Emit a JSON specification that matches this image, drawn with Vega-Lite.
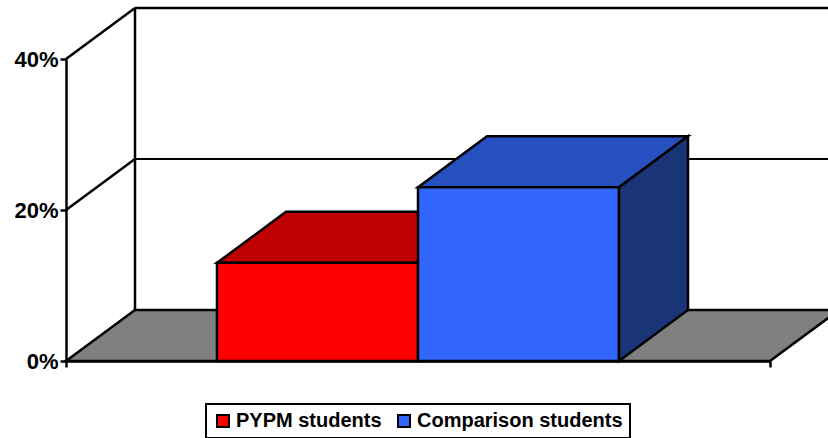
{
  "$schema": "https://vega.github.io/schema/vega-lite/v6.json",
  "width": 704,
  "height": 302,
  "autosize": {"type": "none"},
  "padding": {"left": 66, "top": 59, "right": 58, "bottom": 77},
  "background": "white",
  "config": {
    "view": {"stroke": null},
    "font": "Liberation Sans",
    "legend": {"strokeWidth": 2}
  },
  "datasets": {
    "bars": [
      {"group": "PYPM students", "value": 0.13},
      {"group": "Comparison students", "value": 0.23}
    ]
  },
  "resolve": {"scale": {"x": "independent"}},
  "layer": [
    {
      "data": {"values": [{"part": "walls"}]},
      "layer": [
        {
          "mark": {"type": "point", "shape": "M0,0L704,0L773,-51L69,-51Z", "size": 4, "filled": true, "fill": "#808080", "stroke": "black", "strokeWidth": 2.5, "opacity": 1},
          "encoding": {
            "x": {"datum": 0, "type": "quantitative", "scale": {"type": "linear", "domain": [0, 1], "nice": false, "zero": false},
              "axis": {"values": [0, 1], "labels": false, "title": null, "grid": false, "domainColor": "black", "domainWidth": 2.5, "tickColor": "black", "tickWidth": 2.5, "tickSize": 6, "zindex": 1}},
            "y": {"datum": 0, "type": "quantitative", "scale": {"domain": [0, 0.4], "nice": false, "zero": true},
              "axis": {
                "values": [0, 0.2, 0.4], "format": ".0%", "title": null, "grid": false,
                "labelFont": "Liberation Sans", "labelFontSize": 22, "labelFontWeight": "bold", "labelColor": "black",
                "labelPadding": 2, "tickSize": 6, "tickWidth": 2.5, "tickColor": "black",
                "domainColor": "black", "domainWidth": 2.5, "zindex": 1
              }}
          }
        },
        {
          "mark": {"type": "rule", "color": "black", "strokeWidth": 2.5, "xOffset": 69, "x2Offset": 90, "yOffset": -51},
          "encoding": {
            "x": {"datum": 0, "type": "quantitative"},
            "x2": {"datum": 1},
            "y": {"datum": 0.4, "type": "quantitative"}
          }
        },
        {
          "mark": {"type": "rule", "color": "black", "strokeWidth": 2, "xOffset": 69, "x2Offset": 90, "yOffset": -51},
          "encoding": {
            "x": {"datum": 0, "type": "quantitative"},
            "x2": {"datum": 1},
            "y": {"datum": 0.2, "type": "quantitative"}
          }
        },
        {
          "mark": {"type": "rule", "color": "black", "strokeWidth": 2.5, "xOffset": 69, "yOffset": -51, "y2Offset": -51},
          "encoding": {
            "x": {"datum": 0, "type": "quantitative"},
            "y": {"datum": 0, "type": "quantitative"},
            "y2": {"datum": 0.4}
          }
        },
        {
          "mark": {"type": "rule", "color": "black", "strokeWidth": 2.5, "x2Offset": 69, "y2Offset": -51},
          "encoding": {
            "x": {"datum": 0, "type": "quantitative"},
            "x2": {"datum": 0},
            "y": {"datum": 0.4, "type": "quantitative"},
            "y2": {"datum": 0.4}
          }
        },
        {
          "mark": {"type": "rule", "color": "black", "strokeWidth": 2.5, "x2Offset": 69, "y2Offset": -51},
          "encoding": {
            "x": {"datum": 0, "type": "quantitative"},
            "x2": {"datum": 0},
            "y": {"datum": 0.2, "type": "quantitative"},
            "y2": {"datum": 0.2}
          }
        },
        {
          "data": {"name": "bars"},
          "mark": {"type": "square", "size": 0, "filled": true, "opacity": 1, "strokeWidth": 0},
          "encoding": {
            "color": {
              "field": "group", "type": "nominal",
              "scale": {"domain": ["PYPM students", "Comparison students"], "range": ["#FF0000", "#3366FF"]},
              "legend": {
                "orient": "none", "legendX": 140, "legendY": 345, "direction": "horizontal", "title": null,
                "strokeColor": "black", "padding": 7, "symbolType": "square", "symbolSize": 144,
                "symbolStrokeColor": "black", "symbolStrokeWidth": 2, "symbolOpacity": 1,
                "labelFont": "Liberation Sans", "labelFontSize": 20, "labelFontWeight": "bold", "labelColor": "black",
                "labelOffset": 3, "columnPadding": 12, "labelLimit": 400
              }
            }
          }
        }
      ]
    },
    {
      "data": {"name": "bars"},
      "encoding": {
        "x": {
          "field": "group", "type": "nominal",
          "scale": {"type": "band", "domain": ["PYPM students", "Comparison students"], "paddingInner": 0, "paddingOuter": 0.751},
          "axis": null
        },
        "y": {
          "field": "value", "type": "quantitative"
        }
      },
      "layer": [
        {
          "mark": {"type": "point", "shape": "M-100.5,0L-31.5,-51L169.5,-51L100.5,0Z", "size": 4, "filled": true, "stroke": "black", "strokeWidth": 2.5, "opacity": 1, "fillOpacity": 1, "strokeOpacity": 1},
          "encoding": {
            "fill": {"field": "group", "type": "nominal", "scale": {"domain": ["PYPM students", "Comparison students"], "range": ["#BF0000", "#2650C0"]}, "legend": null}
          }
        },
        {
          "mark": {"type": "bar", "stroke": "black", "strokeWidth": 2.5, "opacity": 1},
          "encoding": {
            "color": {
              "field": "group", "type": "nominal",
              "scale": {"domain": ["PYPM students", "Comparison students"], "range": ["#FF0000", "#3366FF"]},
              "legend": null
            }
          }
        },
        {
          "transform": [{"filter": "datum.group === 'Comparison students'"}],
          "mark": {"type": "point", "shape": "M100.5,0L169.5,-51L169.5,122.6L100.5,173.6Z", "size": 4, "filled": true, "fill": "#1A3478", "stroke": "black", "strokeWidth": 2.5, "opacity": 1}
        }
      ]
    }
  ]
}
